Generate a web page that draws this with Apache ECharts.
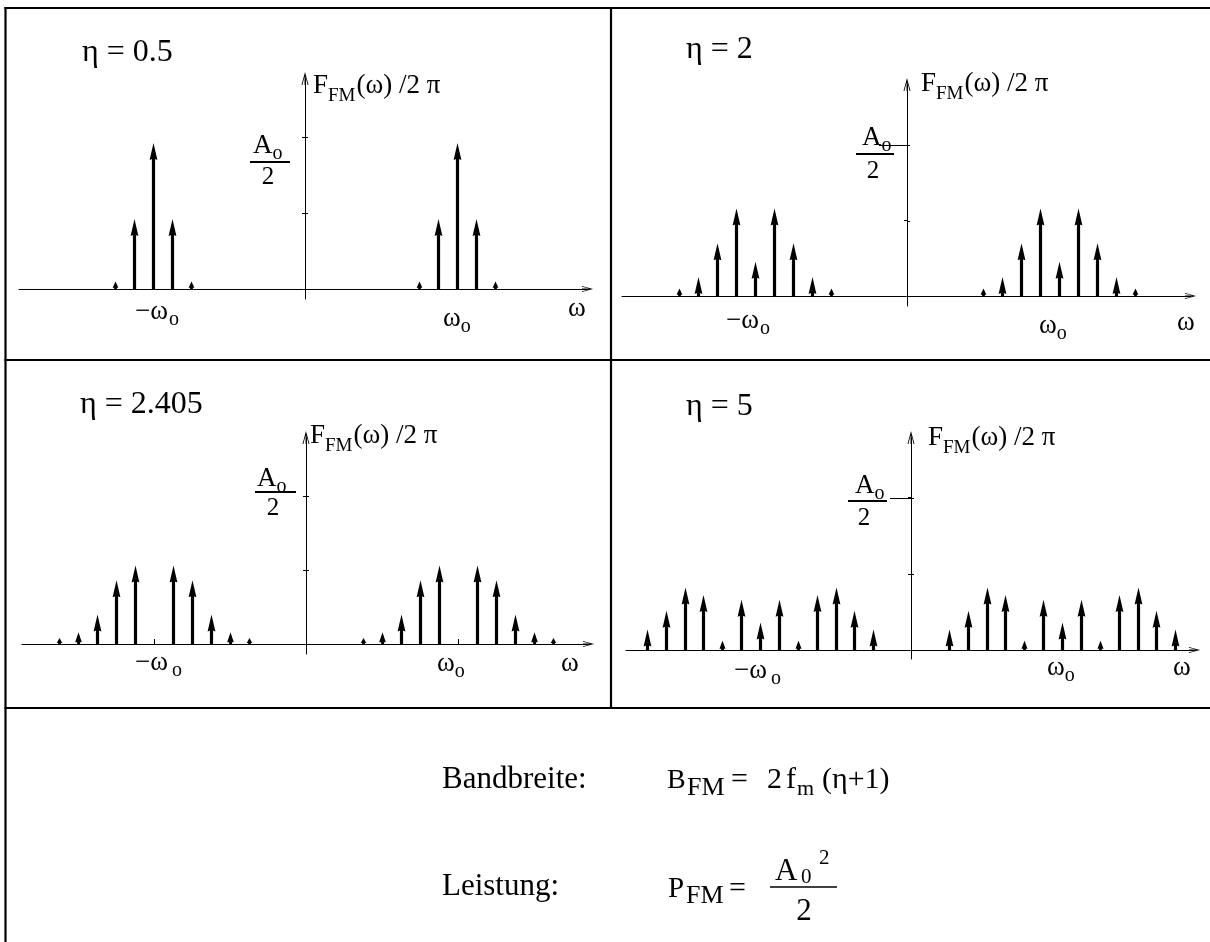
<!DOCTYPE html>
<html><head><meta charset="utf-8">
<script src="https://cdn.jsdelivr.net/npm/echarts@6/dist/echarts.min.js"></script>
<style>html,body{margin:0;padding:0;background:#fff}#c{width:1210px;height:942px}</style>
</head><body><div id="c"></div>
<script>
// ---------------- data ----------------
const etaLabels = ['η = 0.5', 'η = 2', 'η = 2.405', 'η = 5'];
const sidebandSpacing = 0.125;          // ω_m relative to ω0
const carrierPositions = [-1, 1];       // −ω0 and +ω0
const orders05 = [-2, -1, 0, 1, 2];
const amps05   = [0.05, 0.46, 0.96, 0.46, 0.05];
const orders2  = [-4, -3, -2, -1, 0, 1, 2, 3, 4];
const amps2    = [0.05, 0.126, 0.35, 0.58, 0.226, 0.58, 0.35, 0.126, 0.05];
const orders2405 = [-5, -4, -3, -2, -1, 0, 1, 2, 3, 4, 5];
const amps2405   = [0.04, 0.08, 0.20, 0.43, 0.53, 0, 0.53, 0.43, 0.20, 0.08, 0.04];
const orders5  = [-6, -5, -4, -3, -2, -1, 0, 1, 2, 3, 4, 5, 6];
const amps5    = [0.134, 0.257, 0.41, 0.36, 0.06, 0.33, 0.18, 0.33, 0.06, 0.36, 0.41, 0.257, 0.134];
const yTickValues = [0.5, 1];
const xTickValues = [-1, 1];
const spectra = [[orders05, amps05], [orders2, amps2], [orders2405, amps2405], [orders5, amps5]];

// ---------------- layout (pixels) ----------------
const FONT = '"Liberation Serif", "Times New Roman", serif';
const panels = [
  {ox:305, oy:289, ux:152, uy:152,   xl:19,  xt:595,  yt:72,  yb:299, title:[82,63],
   F:[8,-194], A:[-52,-134], bar:[-127,-55,-15], two:[-37,-103], mw:[-170,32], og:1, pw:[138,39], w:[263,29], ext:0},
  {ox:907, oy:296, ux:152, uy:151,   xl:622, xt:1198, yt:78,  yb:306, title:[686,60],
   F:[14,-203], A:[-45,-149], bar:[-142,-51,-13], two:[-34,-116], mw:[-181,34], og:1, pw:[132,39], w:[270,36], ext:28},
  {ox:306, oy:644, ux:152, uy:148,   xl:22,  xt:596,  yt:431, yb:654, title:[80,415],
   F:[4,-199], A:[-49,-156], bar:[-152,-51,-10], two:[-33,-127], mw:[-171,28], og:4, pw:[131,29], w:[255,29], ext:0},
  {ox:911, oy:650, ux:151, uy:152.5, xl:626, xt:1202, yt:431, yb:659, title:[686,417],
   F:[17,-203], A:[-56,-155], bar:[-149,-63,-24], two:[-47,-123], mw:[-177,30], og:4, pw:[136,27], w:[262,27], ext:21}
];

const arrowY = 'path://M0,0 L3.5,13 L2.6,13 L0.45,4.5 L0.45,13 L-0.45,13 L-0.45,4.5 L-2.6,13 L-3.5,13 Z';

const grids = [], xAxes = [], yAxes = [], series = [];
panels.forEach((p, i) => {
  const xEnd = p.xt - 7.5, yTop = p.yt + 6.5;
  const xmin = (p.xl - p.ox) / p.ux, xmax = (xEnd - p.ox) / p.ux;
  const ymax = (p.oy - yTop) / p.uy, ymin = -(p.yb - p.oy) / p.uy;
  grids.push({left: p.xl, top: yTop, width: xEnd - p.xl, height: p.yb - yTop, outerBoundsMode: 'none', containLabel: false});
  xAxes.push({type:'value', gridIndex:i, min:xmin, max:xmax,
    axisLine:{show:true, onZero:true, symbol:['none', arrowY], symbolSize:[6,15], lineStyle:{color:'#000', width:1}},
    axisTick:{show:true, customValues:xTickValues, inside:true, length:5, lineStyle:{color:'#000', width:1}},
    axisLabel:{show:false}, splitLine:{show:false}});
  yAxes.push({type:'value', gridIndex:i, min:ymin, max:ymax,
    axisLine:{show:true, onZero:true, symbol:['none', arrowY], symbolSize:[7,13], lineStyle:{color:'#000', width:1}},
    axisTick:{show:true, customValues:yTickValues, inside:false, length:3, lineStyle:{color:'#000', width:1}},
    axisLabel:{show:false}, splitLine:{show:false}});
  const [orders, amps] = spectra[i];
  const data = [];
  carrierPositions.forEach(c => orders.forEach((n, k) => data.push([c + n * sidebandSpacing, amps[k]])));
  series.push({type:'custom', xAxisIndex:i, yAxisIndex:i, data, renderItem: renderArrow, silent:true, z:5});
});

function renderArrow(params, api) {
  const x = api.value(0), v = api.value(1);
  if (!(v > 0)) return null;
  const b = api.coord([x, 0]), t = api.coord([x, v]);
  const h = b[1] - t[1];
  const px = Math.round(b[0]) + 0.5, ty = t[1], by = b[1];
  const children = [];
  if (h >= 17) {
    children.push({type:'line', shape:{x1:px, y1:by, x2:px, y2:ty + 12}, style:{stroke:'#000', lineWidth:3.2}});
    children.push({type:'polygon', shape:{points:[[px, ty], [px + 3.9, ty + 17], [px + 1.4, ty + 16], [px - 1.4, ty + 16], [px - 3.9, ty + 17]]}, style:{fill:'#000'}});
  } else {
    const hl = Math.max(h * 0.85, 3), hw = 2.2 + 1.6 * h / 17;
    children.push({type:'line', shape:{x1:px, y1:by, x2:px, y2:ty + hl * 0.7}, style:{stroke:'#000', lineWidth:2.8}});
    children.push({type:'polygon', shape:{points:[[px, ty], [px + hw, ty + hl], [px - hw, ty + hl]]}, style:{fill:'#000'}});
  }
  return {type:'group', children};
}

const chart = echarts.init(document.getElementById('c'), null, {renderer:'canvas'});
chart.setOption({animation:false, backgroundColor:'#fff', grid:grids, xAxis:xAxes, yAxis:yAxes, series});

// ---------------- texts & table ----------------
const ctx = document.createElement('canvas').getContext('2d');
function tw(s, fs) { ctx.font = fs + 'px ' + FONT; return ctx.measureText(s).width; }
function txt(s, x, base, fs, align) {
  return {type:'text', x, y: base - 0.3375 * fs, silent:true, z:20,
    style:{text:s, fontFamily:FONT, fontSize:fs, fill:'#000', align: align || 'left', verticalAlign:'middle'}};
}
// flow of fragments: [text, fontSize, baselineShift, gapBefore]
function flow(frags, x, base) {
  const out = [];
  frags.forEach(([s, fs, dy, gap]) => { x += (gap || 0); out.push(txt(s, x, base + (dy || 0), fs)); x += tw(s, fs); });
  return out;
}
function hline(x1, x2, y, w) { return {type:'line', silent:true, z:20, shape:{x1, y1:y, x2, y2:y}, style:{stroke:'#000', lineWidth:w}}; }
function vline(x, y1, y2, w) { return {type:'line', silent:true, z:20, shape:{x1:x, y1, x2:x, y2}, style:{stroke:'#000', lineWidth:w}}; }

const g = [];
// table
g.push(hline(4.5, 1212, 8, 2.2), vline(5.5, 7, 944, 2.2), vline(611, 8, 708, 2.2), hline(4.5, 1212, 360, 2.2), hline(4.5, 1212, 708, 2.2));

panels.forEach((p, i) => {
  const o = chart.convertToPixel({gridIndex:i}, [0, 0]);
  const ox = o[0], oy = o[1];
  g.push(txt(etaLabels[i], p.title[0], p.title[1], 32));
  g.push(...flow([['F', 27, 0], ['FM', 19, 7], ['(ω) /2 π', 27, 0, 1]], ox + p.F[0], oy + p.F[1]));
  g.push(...flow([['A', 27, 0], ['o', 20, 5]], ox + p.A[0], oy + p.A[1]));
  g.push(hline(ox + p.bar[1], ox + p.bar[2], oy + p.bar[0], 2));
  g.push(txt('2', ox + p.two[0], oy + p.two[1], 25, 'center'));
  // right-hand half of the y ticks (ticks cross the axis)
  yTickValues.forEach(v => {
    const tk = chart.convertToPixel({gridIndex:i}, [0, v]);
    g.push(hline(tk[0], tk[0] + 3, Math.round(tk[1]) + 0.5, 1));
  });
  if (p.ext) {
    const tk = chart.convertToPixel({gridIndex:i}, [0, yTickValues[1]]);
    g.push(hline(tk[0] - p.ext, tk[0], Math.round(tk[1]) + 0.5, 1));
  }
  g.push(...flow([['−ω', 27, 0], ['o', 20, 5, p.og]], ox + p.mw[0], oy + p.mw[1]));
  g.push(...flow([['ω', 27, 0], ['o', 20, 5]], ox + p.pw[0], oy + p.pw[1]));
  g.push(txt('ω', ox + p.w[0], oy + p.w[1], 27));
});

// bottom formulas
g.push(txt('Bandbreite:', 442, 790, 31));
g.push(txt('B', 667, 790, 28), txt('FM', 687, 797, 26), txt('=', 731, 790, 30), txt('2', 767, 790, 30),
       txt('f', 786, 790, 30), txt('m', 797, 797, 22), txt('(η+1)', 822, 790, 30));
g.push(txt('Leistung:', 442, 897, 31));
g.push(txt('P', 668, 899, 29), txt('FM', 686, 905, 26), txt('=', 729, 899, 30));
g.push(txt('A', 775, 882, 31), txt('0', 801, 885, 21), txt('2', 819, 866, 21));
g.push(hline(770, 837, 887, 1.6));
g.push(txt('2', 804, 922, 31, 'center'));

chart.setOption({graphic: g});
</script></body></html>
